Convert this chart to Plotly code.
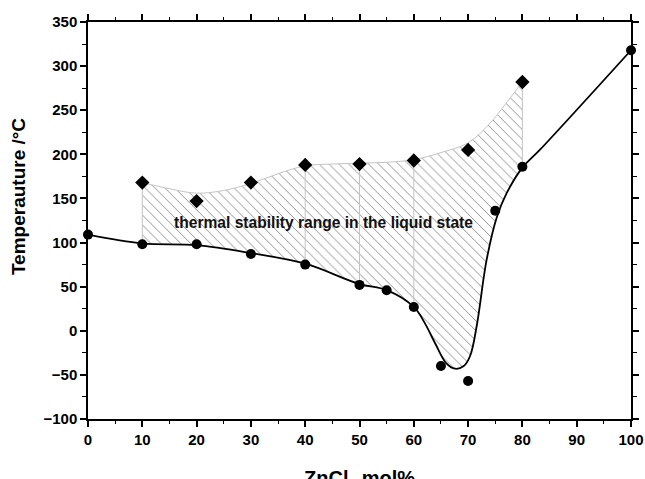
import plotly.graph_objects as go

# ---- data ----
circle_x = [0, 10, 20, 30, 40, 50, 55, 60, 65, 70, 75, 80, 100]
circle_y = [109, 98, 98, 87, 75, 52, 46, 27, -40, -57, 136, 186, 318]

diamond_x = [10, 20, 30, 40, 50, 60, 70, 80]
diamond_y = [168, 147, 168, 188, 189, 193, 205, 282]

# traced smooth curves (knots)
lower_curve_x = [0, 10, 20, 30, 40, 50, 55, 60, 62, 64, 66, 67.6, 69.2, 70.4, 71.6, 73.4, 75.3, 77.1, 80, 83.2, 100]
lower_curve_y = [109, 99, 97, 88, 76, 53, 46, 27, 9, -15, -37, -43, -40, -28, 6, 80, 129, 156, 185, 205, 318]

upper_curve_x = [10, 15, 20, 25, 30, 35, 40, 45, 50, 55, 60, 65, 70, 74, 77, 80]
upper_curve_y = [168, 161, 156, 159, 167, 178, 187, 189, 190, 191, 194, 202, 213, 235, 258, 282]

divider_x = [10, 40, 50, 60, 80]
divider_top = [168, 187, 190, 194, 282]
divider_bottom = [99, 76, 53, 27, 185]

x_ticks = [0, 10, 20, 30, 40, 50, 60, 70, 80, 90, 100]
y_ticks = [-100, -50, 0, 50, 100, 150, 200, 250, 300, 350]

label_text = "thermal stability range in the liquid state"
label_x, label_y = 43.3, 123

FONT = "Liberation Sans, Arial, sans-serif"
GRAY = "#c4c4c4"

fig = go.Figure()

# lower boundary of hatched region (invisible)
fill_lo_x = [x for x in lower_curve_x if 10 <= x <= 80]
fill_lo_y = [y for x, y in zip(lower_curve_x, lower_curve_y) if 10 <= x <= 80]
fig.add_trace(go.Scatter(x=fill_lo_x, y=fill_lo_y, mode="lines",
                         line=dict(width=0, shape="spline"), hoverinfo="skip",
                         showlegend=False))
# upper boundary with hatch fill
fig.add_trace(go.Scatter(x=upper_curve_x, y=upper_curve_y, mode="lines",
                         line=dict(color=GRAY, width=1, shape="spline"),
                         fill="tonexty", fillcolor="rgba(0,0,0,0)",
                         fillpattern=dict(shape="\\", fgcolor="#000000", bgcolor="rgba(255,255,255,0)",
                                          size=7, solidity=0.12),
                         hoverinfo="skip", showlegend=False))

# vertical divider lines
vx, vy = [], []
for x, t, b in zip(divider_x, divider_top, divider_bottom):
    vx += [x, x, None]
    vy += [t, b, None]
fig.add_trace(go.Scatter(x=vx, y=vy, mode="lines", line=dict(color=GRAY, width=1),
                         hoverinfo="skip", showlegend=False))

# lower solid curve
fig.add_trace(go.Scatter(x=lower_curve_x, y=lower_curve_y, mode="lines",
                         line=dict(color="black", width=1.8, shape="spline"),
                         showlegend=False))

# markers
fig.add_trace(go.Scatter(x=circle_x, y=circle_y, mode="markers",
                         marker=dict(symbol="circle", size=10, color="black"),
                         cliponaxis=False, showlegend=False))
fig.add_trace(go.Scatter(x=diamond_x, y=diamond_y, mode="markers",
                         marker=dict(symbol="diamond", size=11, color="black"),
                         cliponaxis=False, showlegend=False))

fig.add_annotation(x=label_x, y=label_y, text=label_text, showarrow=False,
                   font=dict(family=FONT, size=15.6, color="#111", weight="bold"))

# x axis title (partly cut by the bottom edge, as in the reference)
fig.add_annotation(xref="paper", yref="paper", x=0.5, y=0, yshift=-46,
                   yanchor="top", xanchor="center", showarrow=False,
                   text="ZnCl<sub>2</sub> mol%",
                   font=dict(family=FONT, size=20, color="black", weight="bold"))

# y axis title
fig.add_annotation(xref="paper", yref="paper", x=0, y=0.559, xshift=-70,
                   xanchor="center", yanchor="middle", textangle=-90, showarrow=False,
                   text="Temperauture /°C",
                   font=dict(family=FONT, size=19, color="black", weight="bold"))

axis_common = dict(showline=True, linecolor="black", linewidth=1.5, mirror="ticks",
                   ticks="outside", ticklen=6, tickwidth=1.5, tickcolor="black",
                   showgrid=False, zeroline=False, automargin=False,
                   tickfont=dict(family=FONT, size=15, color="black", weight="bold"))

fig.update_xaxes(range=[0, 100], tickvals=x_ticks,
                 minor=dict(dtick=5, ticks="outside", ticklen=3, tickwidth=1.2, tickcolor="black"),
                 **axis_common)
fig.update_yaxes(range=[-100, 350], tickvals=y_ticks,
                 minor=dict(dtick=25, ticks="outside", ticklen=4, tickwidth=1.2, tickcolor="black"),
                 **axis_common)

fig.update_layout(width=645, height=479,
                  margin=dict(l=88, r=14, t=22, b=60),
                  plot_bgcolor="white", paper_bgcolor="white",
                  font=dict(family=FONT))

fig.write_html("out.html", config={"displayModeBar": False},
               post_script="document.body.style.margin='0';document.body.style.overflow='hidden';")
